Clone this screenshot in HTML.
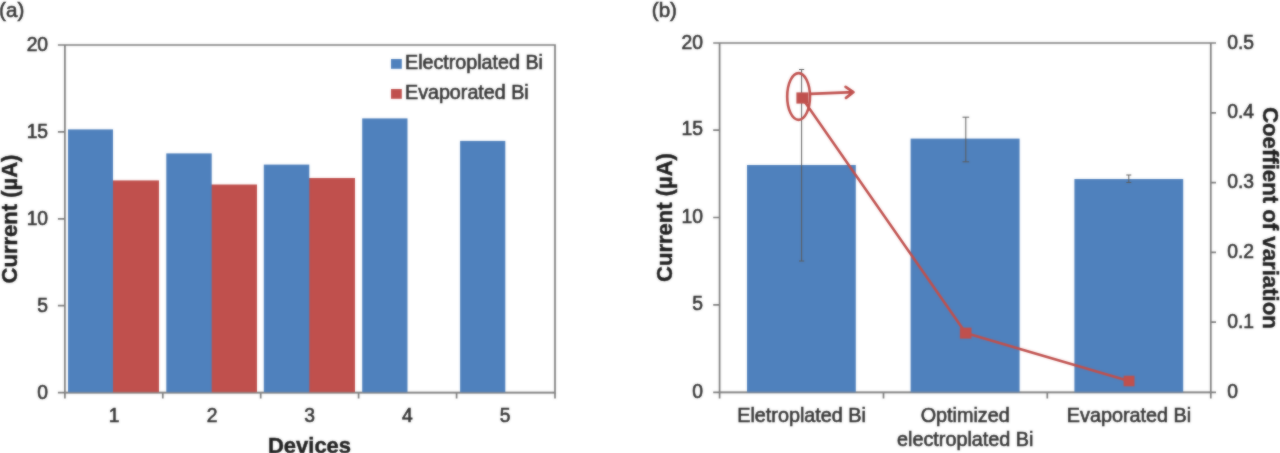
<!DOCTYPE html>
<html>
<head>
<meta charset="utf-8">
<title>Figure</title>
<style>
html,body{margin:0;padding:0;background:#fff;}
body{width:1280px;height:453px;overflow:hidden;font-family:"Liberation Sans",sans-serif;}
svg{display:block;}
text{font-family:"Liberation Sans",sans-serif;fill:#343434;stroke:#343434;stroke-width:0.6px;}
.t{font-size:19.3px;}
.b{font-weight:bold;fill:#1e1e1e;stroke:#1e1e1e;stroke-width:0.45px;}
.ax{stroke:#7c7c7c;stroke-width:1.7;fill:none;}
.eb{stroke:#5c5c5c;stroke-width:1;fill:none;}
</style>
</head>
<body>
<svg width="1280" height="453" viewBox="0 0 1280 453">
<defs>
<filter id="bl" x="0" y="0" width="1280" height="453" filterUnits="userSpaceOnUse" color-interpolation-filters="sRGB"><feGaussianBlur stdDeviation="0.85"/></filter>
<g id="fig">
<rect x="0" y="0" width="1280" height="453" fill="#ffffff"/>

<!-- ================= chart (a) ================= -->
<g id="chartA">
<text x="-0.9" y="17.4" style="font-size:20.6px">(a)</text>

<!-- plot border -->
<path class="ax" d="M57.9 45 H555 V392.7 H57.9 M64.9 45 V398.6"/>
<!-- y ticks -->
<path class="ax" d="M57.9 131.9 H64.9 M57.9 218.8 H64.9 M57.9 305.7 H64.9"/>
<!-- x ticks -->
<path class="ax" d="M162.8 392.7 V398.6 M260.7 392.7 V398.6 M358.6 392.7 V398.6 M456.6 392.7 V398.6 M555 392.7 V398.6"/>

<!-- bars -->
<g fill="#c0504d">
<rect x="112" y="180.4" width="47" height="212.1"/>
<rect x="210.7" y="184.5" width="46.3" height="208"/>
<rect x="308.3" y="178" width="46.7" height="214.5"/>
</g>
<g fill="#4f81bd">
<rect x="68" y="129.4" width="45" height="263.1"/>
<rect x="166.3" y="153.4" width="45.4" height="239.1"/>
<rect x="263.8" y="164.6" width="45.5" height="227.9"/>
<rect x="362.2" y="118.4" width="45.3" height="274.1"/>
<rect x="460.1" y="140.9" width="45.2" height="251.6"/>
</g>

<path d="M64.9 392.7 H555" stroke="#898989" stroke-width="1.7" opacity="0.5" fill="none"/>
<!-- y labels -->
<g class="t" text-anchor="end">
<text x="48.1" y="51.3">20</text>
<text x="48.1" y="138">15</text>
<text x="48.1" y="224.9">10</text>
<text x="48.1" y="311.8">5</text>
<text x="48.1" y="399.1">0</text>
</g>
<!-- x labels -->
<g class="t" text-anchor="middle">
<text x="114.2" y="422">1</text>
<text x="212" y="422">2</text>
<text x="309.7" y="422">3</text>
<text x="407.4" y="422">4</text>
<text x="505.2" y="422">5</text>
</g>
<text class="b" x="309.5" y="452.7" text-anchor="middle" style="font-size:22px">Devices</text>
<text class="b" transform="translate(17.2 219) rotate(-90)" text-anchor="middle" style="font-size:22px">Current (µA)</text>

<!-- legend -->
<rect x="391" y="59" width="10.8" height="9.8" fill="#4f81bd"/>
<rect x="391" y="89" width="10.8" height="9.8" fill="#c0504d"/>
<text class="t" x="405" y="69" style="font-size:19.7px">Electroplated Bi</text>
<text class="t" x="405" y="99" style="font-size:19.7px">Evaporated Bi</text>
</g>

<!-- ================= chart (b) ================= -->
<g id="chartB">
<text x="651.8" y="17.4" style="font-size:20.6px">(b)</text>

<!-- axes -->
<path class="ax" d="M713.2 43 H1216 M719.6 43 V398.6 M713.2 392.4 H1216 M1210.8 43 V392.4"/>
<path class="ax" d="M713.2 130.2 H719.6 M713.2 217.5 H719.6 M713.2 304.8 H719.6"/>
<path class="ax" d="M1210.8 112.8 H1216 M1210.8 182.6 H1216 M1210.8 252.4 H1216 M1210.8 322.2 H1216"/>
<path class="ax" d="M883.5 392.4 V398.6 M1047.3 392.4 V398.6 M1210.8 392.4 V398.6"/>

<g fill="#4f81bd">
<rect x="747" y="165" width="108.8" height="227.6"/>
<rect x="910.6" y="138.6" width="109" height="254"/>
<rect x="1074.4" y="179" width="108.8" height="213.6"/>
</g>

<path d="M719.6 392.4 H1210.8" stroke="#898989" stroke-width="1.7" opacity="0.5" fill="none"/>
<!-- error bars -->
<path class="eb" d="M801.6 69.5 V261 M799 69.5 H804.2 M799 261 H804.2"/>
<path class="eb" d="M965.8 117.2 V161.8 M962.5 117.2 H969.2 M962.5 161.8 H969.2"/>
<path class="eb" d="M1128.8 175 V182.5 M1126.3 175 H1131.3 M1126.3 182.5 H1131.3"/>

<!-- CV line -->
<polyline points="802.1,98 965.7,333.1 1129,381" fill="none" stroke="#c0504d" stroke-width="2.6" stroke-linejoin="round"/>
<g fill="#c0504d">
<rect x="796.4" y="92.4" width="12" height="11.2"/>
<rect x="959.9" y="327.6" width="11.6" height="11"/>
<rect x="1123.6" y="375.7" width="10.9" height="10.6"/>
</g>
<!-- ellipse + arrow -->
<ellipse cx="798.6" cy="96.5" rx="11.4" ry="23.4" fill="none" stroke="#c0504d" stroke-width="2.6"/>
<path d="M810.3 93.8 L853.2 92.2 M845.6 86.9 L853.4 92.2 L846 97.8" fill="none" stroke="#c0504d" stroke-width="2.8" stroke-linecap="round" stroke-linejoin="round"/>

<!-- left y labels -->
<g class="t" text-anchor="end">
<text x="702.9" y="48.5">20</text>
<text x="702.9" y="135.4">15</text>
<text x="702.9" y="222.8">10</text>
<text x="702.9" y="310.2">5</text>
<text x="702.9" y="398.4">0</text>
</g>
<!-- right y labels -->
<g class="t">
<text x="1227.2" y="49">0.5</text>
<text x="1227.2" y="118.2">0.4</text>
<text x="1227.2" y="188.1">0.3</text>
<text x="1227.2" y="258.1">0.2</text>
<text x="1227.2" y="328.2">0.1</text>
<text x="1227.2" y="398">0</text>
</g>
<!-- x labels -->
<g class="t" text-anchor="middle" style="font-size:19.8px">
<text x="801.6" y="422">Eletroplated Bi</text>
<text x="965.2" y="422">Optimized</text>
<text x="965.2" y="445.6">electroplated Bi</text>
<text x="1129" y="422">Evaporated Bi</text>
</g>
<text class="b" transform="translate(671.8 217.5) rotate(-90)" text-anchor="middle" style="font-size:22px">Current (µA)</text>
<text class="b" transform="translate(1263 217.9) rotate(90)" text-anchor="middle" style="font-size:22.2px">Coeffient of variation</text>
</g>
</g>
</defs>
<use href="#fig" filter="url(#bl)"/>
<use href="#fig" opacity="0.45"/>
</svg>
</body>
</html>
